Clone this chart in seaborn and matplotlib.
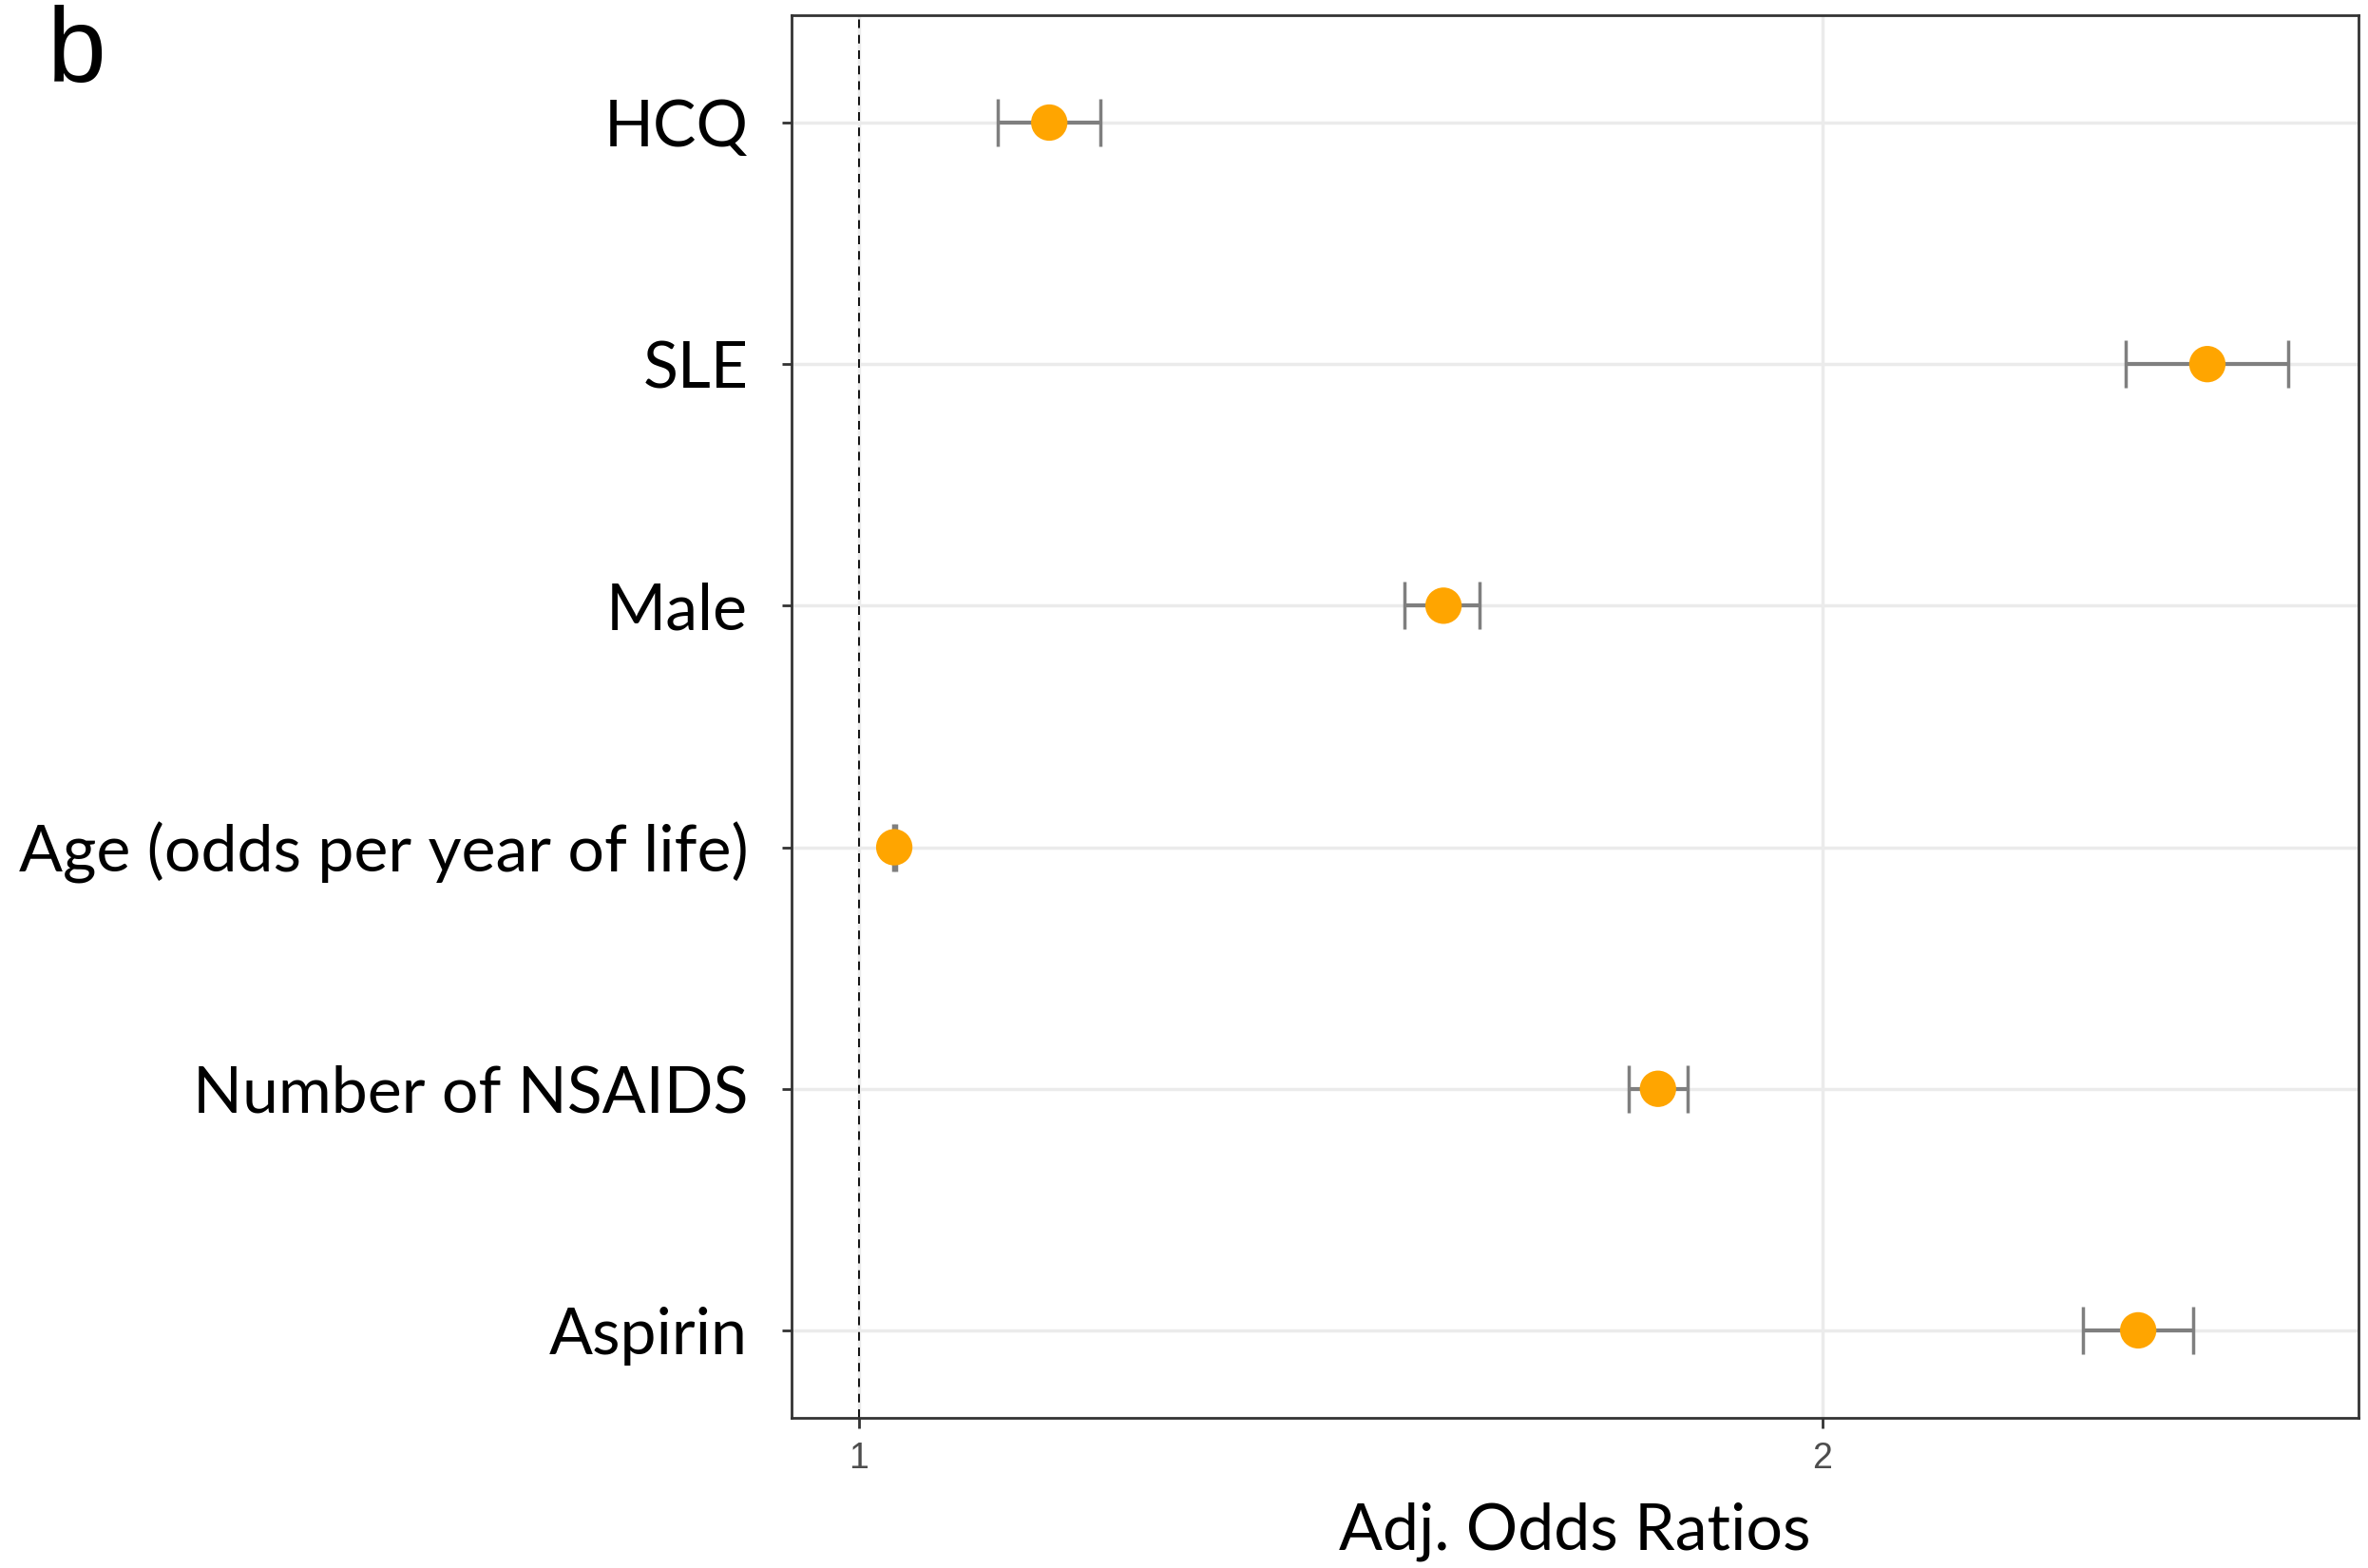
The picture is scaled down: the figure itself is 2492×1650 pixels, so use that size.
import matplotlib
matplotlib.use("Agg")
import matplotlib.pyplot as plt
from matplotlib.ticker import NullLocator
import pandas as pd
import seaborn as sns

# Adjusted odds ratios with 95% CI (log x axis)
TERMS = ["HCQ", "SLE", "Male", "Age (odds per year of life)",
         "Number of NSAIDS", "Aspirin"]
ODDS = [1.147, 2.638, 1.523, 1.026, 1.777, 2.510]
CI_LOW = [1.105, 2.488, 1.481, 1.025, 1.740, 2.413]
CI_HIGH = [1.190, 2.796, 1.563, 1.027, 1.815, 2.611]
X_TICKS = [1, 2]
X_TICK_LABELS = ["1", "2"]

sns.set_theme(style="white")
plt.rcParams["font.family"] = ["Lato", "DejaVu Sans"]


def main():
    df = pd.DataFrame({"term": TERMS, "odds": ODDS,
                       "low": CI_LOW, "high": CI_HIGH})

    fig = plt.figure(figsize=(24.92, 16.5), dpi=100)
    ax = fig.add_axes([0.3343, 0.0958, 0.6617, 0.8945])
    ax.set_xscale("log")

    # Points first so the category order follows TERMS
    sns.scatterplot(data=df, x="odds", y="term", color="#FFA500", s=760,
                    edgecolor="none", ax=ax, zorder=4)
    ax.errorbar(df["odds"], df["term"],
                xerr=[df["odds"] - df["low"], df["high"] - df["odds"]],
                fmt="none", ecolor="#7F7F7F", elinewidth=3, capsize=18,
                capthick=2.5, zorder=3)
    ax.axvline(1, color="black", lw=1.3, ls=(0, (5, 4)), zorder=2)

    # Axes cosmetics (ggplot theme_bw look)
    ax.set_xlim(0.953, 2.941)
    ax.set_ylim(5.362, -0.4445)
    ax.set_xticks(X_TICKS)
    ax.set_xticklabels(X_TICK_LABELS)
    ax.xaxis.set_minor_locator(NullLocator())
    ax.grid(True, which="major", color="#EBEBEB", lw=2.5, zorder=0)
    ax.set_axisbelow(True)
    for sp in ax.spines.values():
        sp.set_visible(True)
        sp.set_color("#333333")
        sp.set_linewidth(2)

    ax.tick_params(axis="y", left=True, length=7, width=2, color="#333333",
                   labelsize=49, pad=26, labelcolor="black")
    ax.tick_params(axis="x", bottom=True, length=8, width=2, color="#333333",
                   labelsize=27, pad=10, labelcolor="#4D4D4D")
    for lbl in ax.get_xticklabels():
        lbl.set_fontfamily("Liberation Sans")

    ax.set_ylabel("")
    ax.set_xlabel("Adj. Odds Ratios", fontsize=49, color="black", labelpad=20)

    # Panel letter
    fig.text(50 / 2492, 1 - 86 / 1650, "b", fontsize=80, color="black",
             family="Liberation Sans", va="baseline", ha="left")

    fig.savefig("out.png", dpi=100)
    plt.close(fig)


if __name__ == "__main__":
    main()
